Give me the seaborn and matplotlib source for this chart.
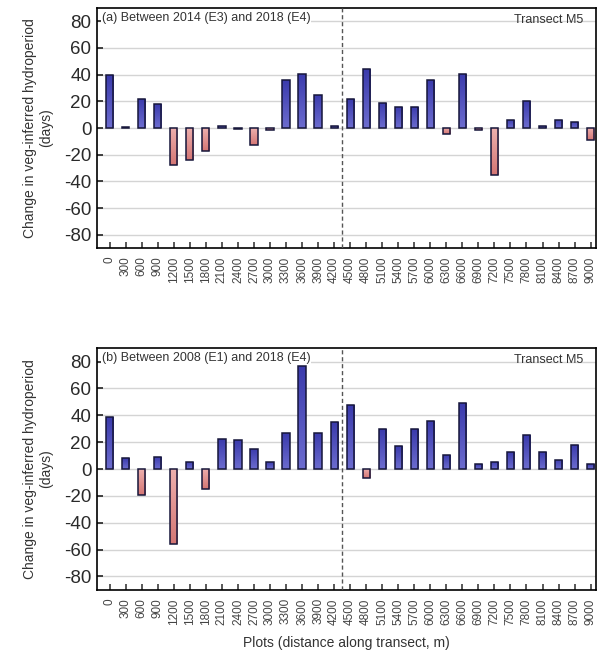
import numpy as np
import pandas as pd
import matplotlib
matplotlib.use("Agg")
import matplotlib.pyplot as plt
import seaborn as sns
from matplotlib.colors import LinearSegmentedColormap

# ── Data ──
plots = [str(d) for d in range(0, 9001, 300)]

change_e3_e4 = [40, 0.5, 22, 18, -28, -24, -17, 1.5, -0.5, -12.5, -1.7,
                36, 40.5, 25, 1.5, 21.5, 44, 19, 16, 16, 36, -4.5, 40.5,
                -1.2, -35, 6, 20.5, 1.5, 6, 4.5, -9]
change_e1_e4 = [39, 8, -19, 9, -56, 5.5, -15, 22.5, 21.5, 15, 5, 27, 77,
                27, 35, 48, -7, 30, 17, 29.5, 36, 10.5, 49, 3.5, 5.5, 12.5,
                25, 12.5, 7, 18, 3.5]

panel_titles = ["(a) Between 2014 (E3) and 2018 (E4)",
                "(b) Between 2008 (E1) and 2018 (E4)"]

POS_CMAP = LinearSegmentedColormap.from_list("pos", ["#6c6ccf", "#3a3aac"])
NEG_CMAP = LinearSegmentedColormap.from_list("neg", ["#d47674", "#eeb0ae"])
EDGE = "#16163a"

sns.set_theme(style="white")
plt.rcParams["font.family"] = ["Liberation Sans", "DejaVu Sans"]
plt.rcParams["axes.unicode_minus"] = False

fig = plt.figure(figsize=(5.98, 6.62), dpi=100)
axes = [fig.add_axes([0.162, 0.625, 0.835, 0.363]),
        fig.add_axes([0.162, 0.109, 0.835, 0.365])]


def gradient_bars(ax):
    """Replace flat fills with a vertical gradient clipped to each bar."""
    grad = np.linspace(0, 1, 100).reshape(-1, 1)
    for p in ax.patches:
        x0, y0 = p.get_x(), p.get_y()
        w, h = p.get_width(), p.get_height()
        if abs(h) < 1:
            continue
        top, bot = max(y0, y0 + h), min(y0, y0 + h)
        cmap = POS_CMAP if h > 0 else NEG_CMAP
        im = ax.imshow(grad, cmap=cmap, aspect="auto", origin="lower",
                       extent=[x0, x0 + w, bot, top], zorder=2.5)
        im.set_clip_path(p)
        p.set_facecolor("none")
        p.set_zorder(3)


for ax, vals, title in zip(axes, [change_e3_e4, change_e1_e4], panel_titles):
    df = pd.DataFrame({"plot": plots, "change": vals})
    df["sign"] = np.where(df["change"] >= 0, "pos", "neg")
    sns.barplot(data=df, x="plot", y="change", hue="sign",
                palette={"pos": "#5050c0", "neg": "#e09090"},
                order=plots, width=0.45, dodge=False, legend=False,
                edgecolor=EDGE, linewidth=1.1, saturation=1, ax=ax)
    gradient_bars(ax)

    ax.set_xlim(-0.8, 30.35)
    ax.set_ylim(-90, 90)
    ax.set_yticks(range(-80, 81, 20))
    ax.yaxis.grid(True, color="#d4d4d4", linewidth=1)
    ax.set_axisbelow(True)
    ax.axvline(14.5, color="#555555", linestyle=(0, (3, 2)), linewidth=1,
               zorder=4)

    for s in ax.spines.values():
        s.set_color("black")
        s.set_linewidth(1.2)
    ax.tick_params(axis="y", direction="in", length=4, labelsize=13.5,
                   colors="#2a2a2a", left=True, pad=4)
    ax.tick_params(axis="x", direction="in", length=4, labelsize=8.5,
                   colors="#444444", bottom=True, rotation=90, pad=6)

    ax.set_xlabel("")
    ax.set_ylabel("Change in veg-inferred hydroperiod\n(days)",
                  fontsize=10, color="#333333", labelpad=8)
    ax.text(0.01, 0.985, title, transform=ax.transAxes, ha="left", va="top",
            fontsize=9, color="#333333", zorder=5,
            bbox=dict(facecolor="white", edgecolor="none", pad=0.5))
    ax.text(0.975, 0.975, "Transect M5", transform=ax.transAxes, ha="right",
            va="top", fontsize=9, color="#333333", zorder=5)

axes[1].set_xlabel("Plots (distance along transect, m)", fontsize=10,
                   color="#333333", labelpad=8)

fig.savefig("out.png", dpi=100)
